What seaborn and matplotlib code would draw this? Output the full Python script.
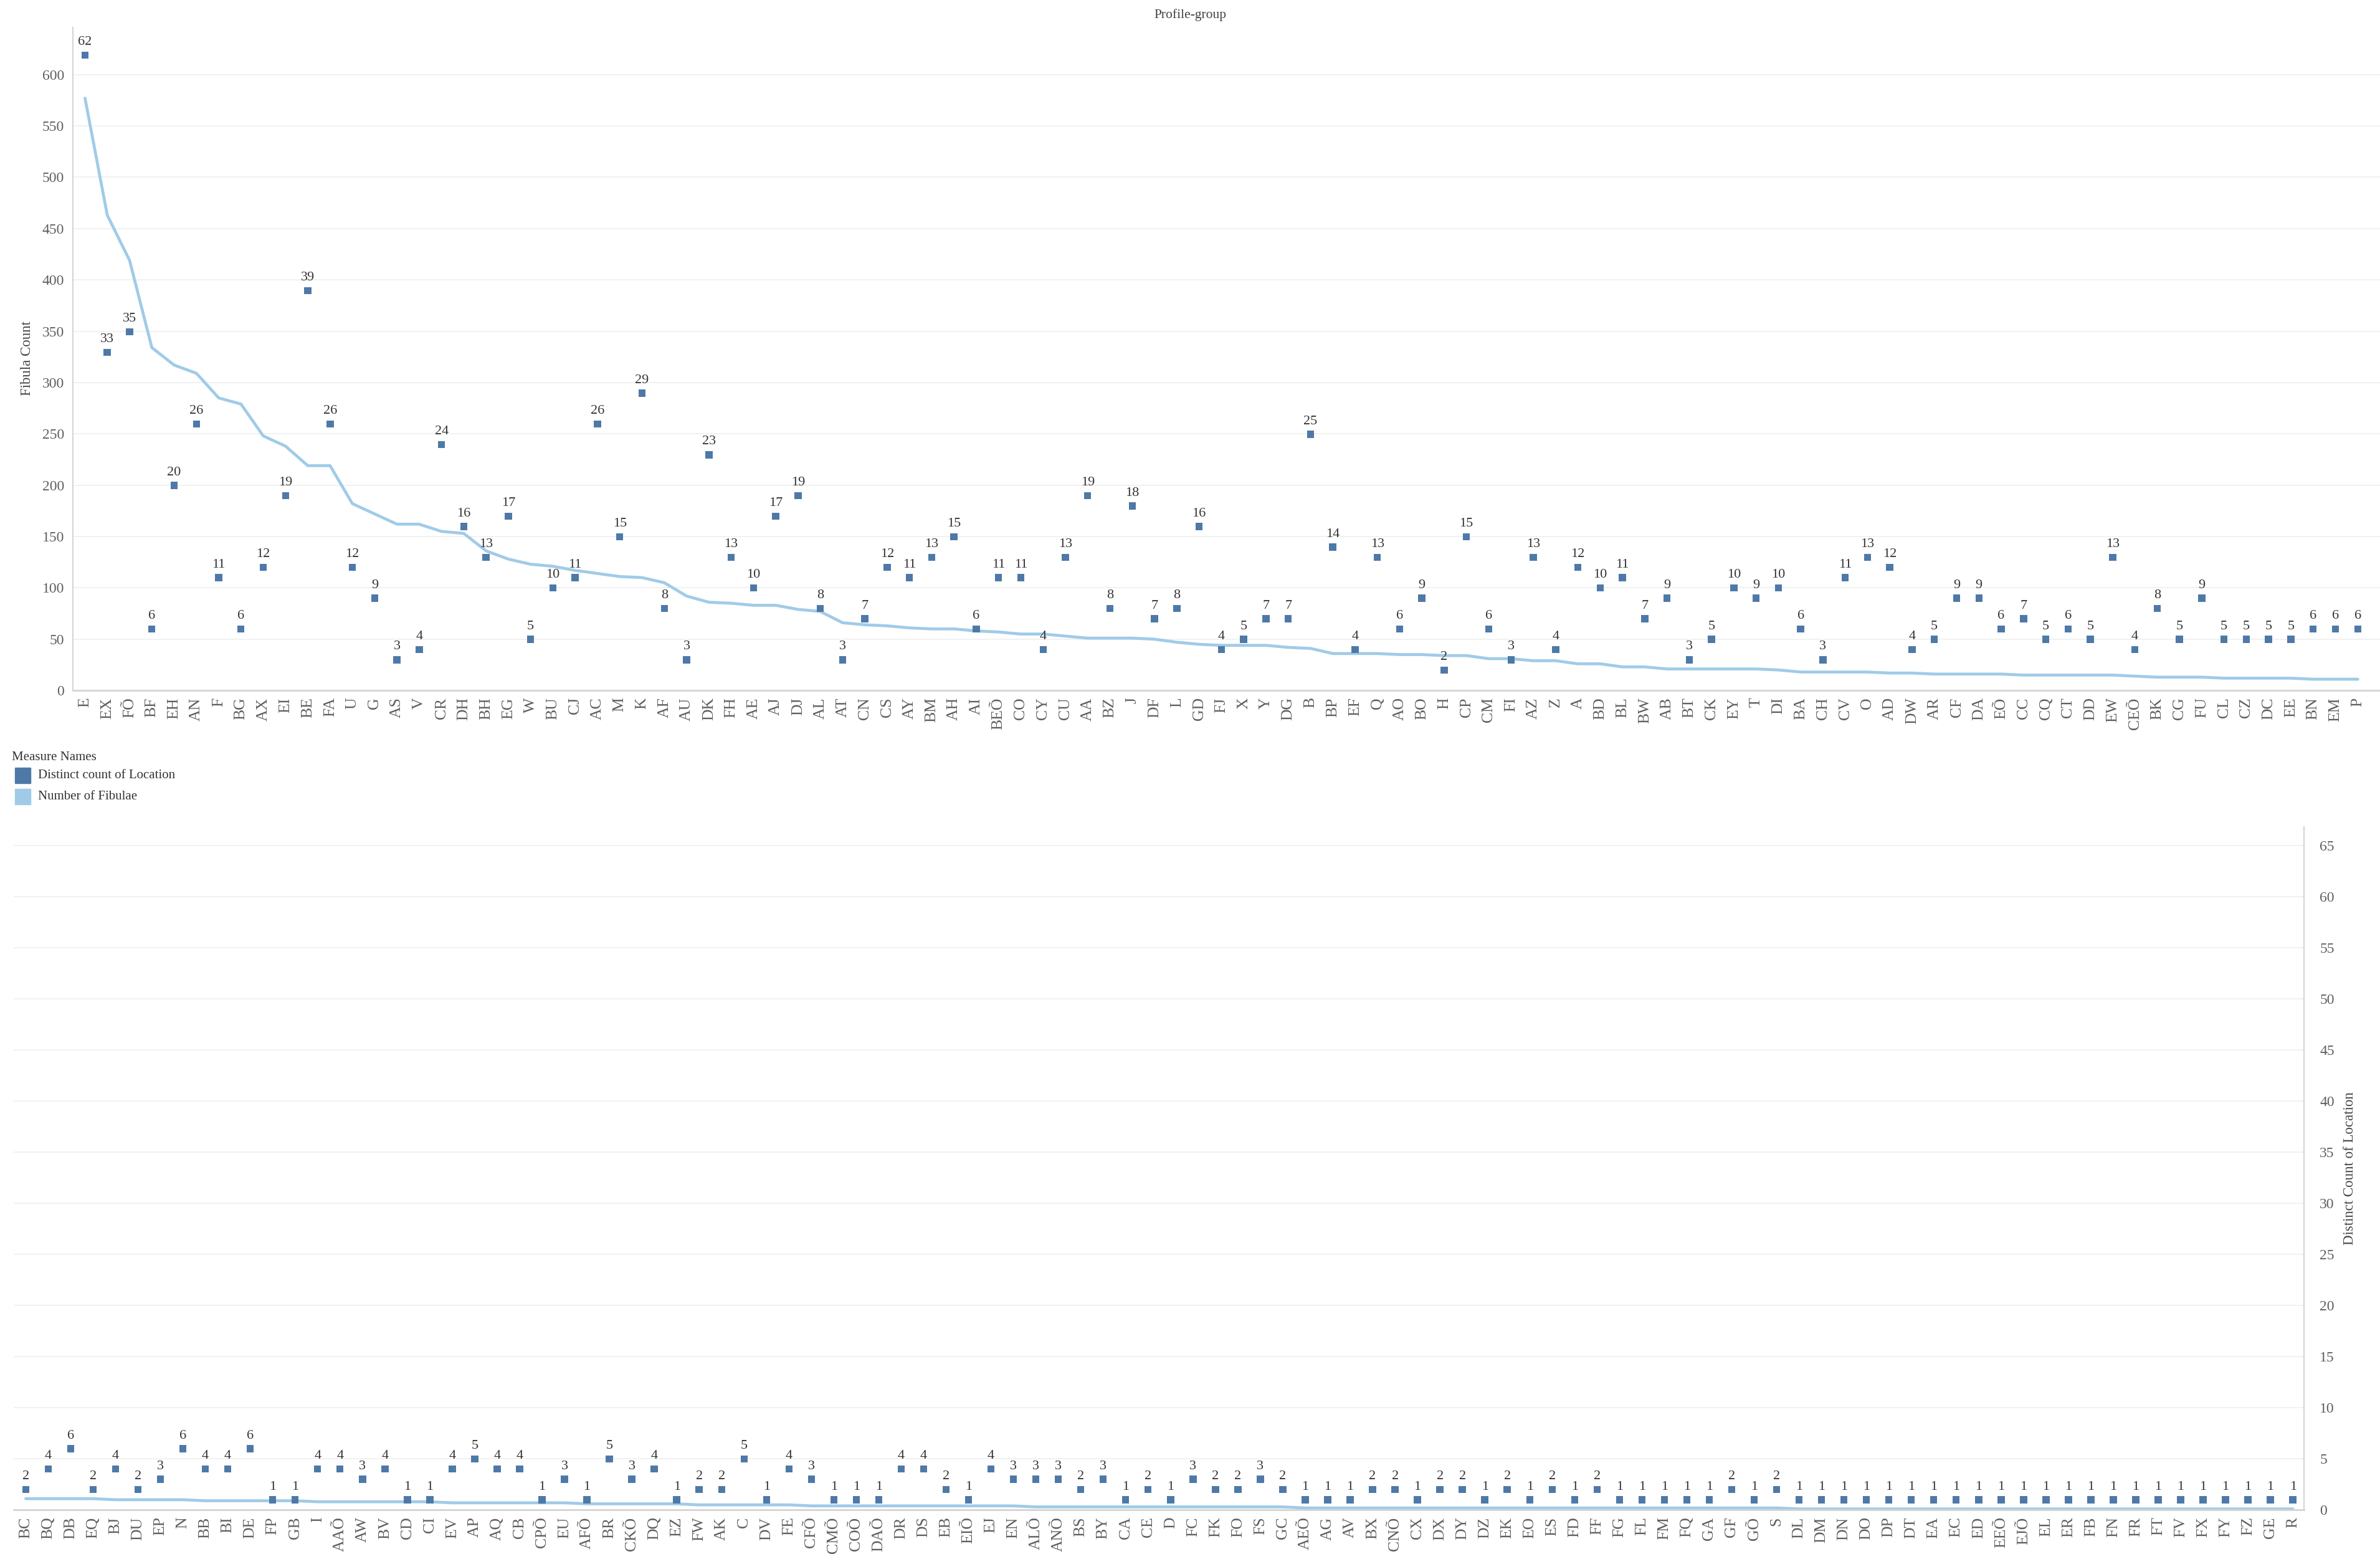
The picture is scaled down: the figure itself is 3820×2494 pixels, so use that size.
import numpy as np
import pandas as pd
import matplotlib
matplotlib.use('Agg')
import matplotlib.pyplot as plt
import seaborn as sns
from matplotlib.patches import Rectangle

# ---------------- data ----------------
top_categories = ['E', 'EX', 'FÕ', 'BF', 'EH', 'AN', 'F', 'BG', 'AX', 'EI',
                  'BE', 'FA', 'U', 'G', 'AS', 'V', 'CR', 'DH', 'BH', 'EG',
                  'W', 'BU', 'CJ', 'AC', 'M', 'K', 'AF', 'AU', 'DK', 'FH',
                  'AE', 'AJ', 'DJ', 'AL', 'AT', 'CN', 'CS', 'AY', 'BM', 'AH',
                  'AI', 'BEÕ', 'CO', 'CY', 'CU', 'AA', 'BZ', 'J', 'DF', 'L',
                  'GD', 'FJ', 'X', 'Y', 'DG', 'B', 'BP', 'EF', 'Q', 'AO',
                  'BO', 'H', 'CP', 'CM', 'FI', 'AZ', 'Z', 'A', 'BD', 'BL',
                  'BW', 'AB', 'BT', 'CK', 'EY', 'T', 'DI', 'BA', 'CH', 'CV',
                  'O', 'AD', 'DW', 'AR', 'CF', 'DA', 'EÕ', 'CC', 'CQ', 'CT',
                  'DD', 'EW', 'CEÕ', 'BK', 'CG', 'FU', 'CL', 'CZ', 'DC', 'EE',
                  'BN', 'EM', 'P']
top_fibulae = [577, 463, 419, 334, 317, 309, 285, 279, 248, 238,
               219, 219, 182, 172, 162, 162, 155, 153, 136, 128,
               123, 121, 117, 114, 111, 110, 105, 92, 86, 85,
               83, 83, 79, 77, 66, 64, 63, 61, 60, 60,
               58, 57, 55, 55, 53, 51, 51, 51, 50, 47,
               45, 44, 44, 44, 42, 41, 36, 36, 36, 35,
               35, 34, 34, 31, 31, 29, 29, 26, 26, 23,
               23, 21, 21, 21, 21, 21, 20, 18, 18, 18,
               18, 17, 17, 16, 16, 16, 16, 15, 15, 15,
               15, 15, 14, 13, 13, 13, 12, 12, 12, 12,
               11, 11, 11]
top_locations = [62, 33, 35, 6, 20, 26, 11, 6, 12, 19,
                 39, 26, 12, 9, 3, 4, 24, 16, 13, 17,
                 5, 10, 11, 26, 15, 29, 8, 3, 23, 13,
                 10, 17, 19, 8, 3, 7, 12, 11, 13, 15,
                 6, 11, 11, 4, 13, 19, 8, 18, 7, 8,
                 16, 4, 5, 7, 7, 25, 14, 4, 13, 6,
                 9, 2, 15, 6, 3, 13, 4, 12, 10, 11,
                 7, 9, 3, 5, 10, 9, 10, 6, 3, 11,
                 13, 12, 4, 5, 9, 9, 6, 7, 5, 6,
                 5, 13, 4, 8, 5, 9, 5, 5, 5, 5,
                 6, 6, 6]

bottom_categories = ['BC', 'BQ', 'DB', 'EQ', 'BJ', 'DU', 'EP', 'N', 'BB', 'BI',
                     'DE', 'FP', 'GB', 'I', 'AAÕ', 'AW', 'BV', 'CD', 'CI', 'EV',
                     'AP', 'AQ', 'CB', 'CPÕ', 'EU', 'AFÕ', 'BR', 'CKÕ', 'DQ', 'EZ',
                     'FW', 'AK', 'C', 'DV', 'FE', 'CFÕ', 'CMÕ', 'COÕ', 'DAÕ', 'DR',
                     'DS', 'EB', 'EIÕ', 'EJ', 'EN', 'ALÕ', 'ANÕ', 'BS', 'BY', 'CA',
                     'CE', 'D', 'FC', 'FK', 'FO', 'FS', 'GC', 'AEÕ', 'AG', 'AV',
                     'BX', 'CNÕ', 'CX', 'DX', 'DY', 'DZ', 'EK', 'EO', 'ES', 'FD',
                     'FF', 'FG', 'FL', 'FM', 'FQ', 'GA', 'GF', 'GÕ', 'S', 'DL',
                     'DM', 'DN', 'DO', 'DP', 'DT', 'EA', 'EC', 'ED', 'EEÕ', 'EJÕ',
                     'EL', 'ER', 'FB', 'FN', 'FR', 'FT', 'FV', 'FX', 'FY', 'FZ',
                     'GE', 'R']
bottom_fibulae = [11, 11, 11, 11, 10, 10, 10, 10, 9, 9,
                  9, 9, 9, 8, 8, 8, 8, 8, 8, 7,
                  7, 7, 7, 7, 7, 6, 6, 6, 6, 6,
                  5, 5, 5, 5, 5, 4, 4, 4, 4, 4,
                  4, 4, 4, 4, 4, 3, 3, 3, 3, 3,
                  3, 3, 3, 3, 3, 3, 3, 2, 2, 2,
                  2, 2, 2, 2, 2, 2, 2, 2, 2, 2,
                  2, 2, 2, 2, 2, 2, 2, 2, 2, 1,
                  1, 1, 1, 1, 1, 1, 1, 1, 1, 1,
                  1, 1, 1, 1, 1, 1, 1, 1, 1, 1,
                  1, 1]
bottom_locations = [2, 4, 6, 2, 4, 2, 3, 6, 4, 4,
                    6, 1, 1, 4, 4, 3, 4, 1, 1, 4,
                    5, 4, 4, 1, 3, 1, 5, 3, 4, 1,
                    2, 2, 5, 1, 4, 3, 1, 1, 1, 4,
                    4, 2, 1, 4, 3, 3, 3, 2, 3, 1,
                    2, 1, 3, 2, 2, 3, 2, 1, 1, 1,
                    2, 2, 1, 2, 2, 1, 2, 1, 2, 1,
                    2, 1, 1, 1, 1, 1, 2, 1, 2, 1,
                    1, 1, 1, 1, 1, 1, 1, 1, 1, 1,
                    1, 1, 1, 1, 1, 1, 1, 1, 1, 1,
                    1, 1]

fibula_ticks = [0, 50, 100, 150, 200, 250, 300, 350, 400, 450, 500, 550, 600]
location_ticks = [0, 5, 10, 15, 20, 25, 30, 35, 40, 45, 50, 55, 60, 65]

# ---------------- style ----------------
sns.set_theme(style='white')
plt.rcParams['font.family'] = ['Liberation Serif', 'DejaVu Serif']

DARK = '#4e79a7'
LIGHT = '#a0cbe8'
TXT = '#5f5f5f'
GRID = '#efefef'
AXC = '#d4d4d4'

fig = plt.figure(figsize=(38.2, 24.94), dpi=100)


def fx(px):
    return px / 1568


def fy(py):
    return 1 - py / 1024


def panel(left, right, top, bottom, cats, fib, loc, xlim, fib_max, loc_max, top_panel):
    ax = fig.add_axes([fx(left), fy(bottom), fx(right) - fx(left), fy(top) - fy(bottom)])
    df = pd.DataFrame({'pos': np.arange(len(cats)), 'fib': fib, 'loc': loc})
    sns.lineplot(data=df, x='pos', y='fib', ax=ax, color=LIGHT, linewidth=3.4,
                 legend=False, zorder=2)
    ax2 = ax.twinx()
    sns.scatterplot(data=df, x='pos', y='loc', ax=ax2, marker='s', s=68,
                    color=DARK, edgecolor='none', legend=False, zorder=3)
    for p, v in zip(df['pos'], df['loc']):
        ax2.annotate(str(v), (p, v), xytext=(0, 15), textcoords='offset points',
                     ha='center', va='center', fontsize=16, color='#333333')
    ax.set_xlim(*xlim)
    ax.set_ylim(0, fib_max)
    ax2.set_ylim(0, loc_max)
    ax.set_xlabel('')
    ax.set_ylabel('')
    ax2.set_ylabel('')
    ax.set_xticks(df['pos'])
    ax.set_xticklabels(cats, rotation=90, fontsize=18.5, color=TXT)
    ax.set_xticks(np.arange(len(cats)) + 0.5, minor=True)
    ax.tick_params(axis='x', which='major', length=0, pad=8)
    ax.tick_params(axis='x', which='minor', length=14, width=1, color='#e6e6e6')
    for s in ['top', 'right', 'left']:
        ax.spines[s].set_visible(False)
    for s in ['top', 'right', 'left', 'bottom']:
        ax2.spines[s].set_visible(False)
    ax.spines['bottom'].set_color(AXC)
    ax.spines['bottom'].set_linewidth(2)
    if top_panel:
        ax.set_yticks(fibula_ticks)
        ax.set_yticklabels([str(t) for t in fibula_ticks], fontsize=17, color=TXT)
        ax.tick_params(axis='y', length=0, pad=10)
        ax.spines['left'].set_visible(True)
        ax.spines['left'].set_color(AXC)
        ax.spines['left'].set_linewidth(1.5)
        ax2.set_yticks([])
    else:
        ax.set_yticks([t * fib_max / loc_max for t in location_ticks])
        ax.tick_params(axis='y', length=0, labelleft=False)
        ax2.set_yticks(location_ticks)
        ax2.set_yticklabels([str(t) for t in location_ticks], fontsize=17, color=TXT)
        ax2.tick_params(axis='y', length=0, pad=18)
        ax2.spines['right'].set_visible(True)
        ax2.spines['right'].set_color(AXC)
        ax2.spines['right'].set_linewidth(1.5)
    ax.grid(axis='y', color=GRID, linewidth=1.2)
    ax.grid(axis='x', visible=False)
    ax2.grid(False)
    return ax, ax2


panel(48, 1568, 18, 455, top_categories, top_fibulae, top_locations,
      (-0.545, 103.0), 646, 64.7, True)
panel(9, 1518, 545, 995, bottom_categories, bottom_fibulae, bottom_locations,
      (-0.54, 101.47), 665, 66.8, False)

# titles and axis titles
fig.text(0.5, fy(10), 'Profile-group', ha='center', va='center', fontsize=15.5, color='#444444')
fig.text(fx(18), fy(236), 'Fibula Count', rotation=90, ha='center', va='center',
         fontsize=16.5, color='#444444')
fig.text(fx(1548), fy(770), 'Distinct Count of Location', rotation=90, ha='center',
         va='center', fontsize=16.5, color='#444444')

# legend
fig.text(fx(8), fy(499), 'Measure Names', ha='left', va='center', fontsize=15, color='#333333')
for yy, col, lab in [(511, DARK, 'Distinct count of Location'), (525, LIGHT, 'Number of Fibulae')]:
    fig.add_artist(Rectangle((fx(10), fy(yy + 5)), fx(10), 10 / 1024,
                             transform=fig.transFigure, color=col))
    fig.text(fx(25), fy(yy), lab, ha='left', va='center', fontsize=15, color='#333333')

fig.savefig('out.png', dpi=100)
